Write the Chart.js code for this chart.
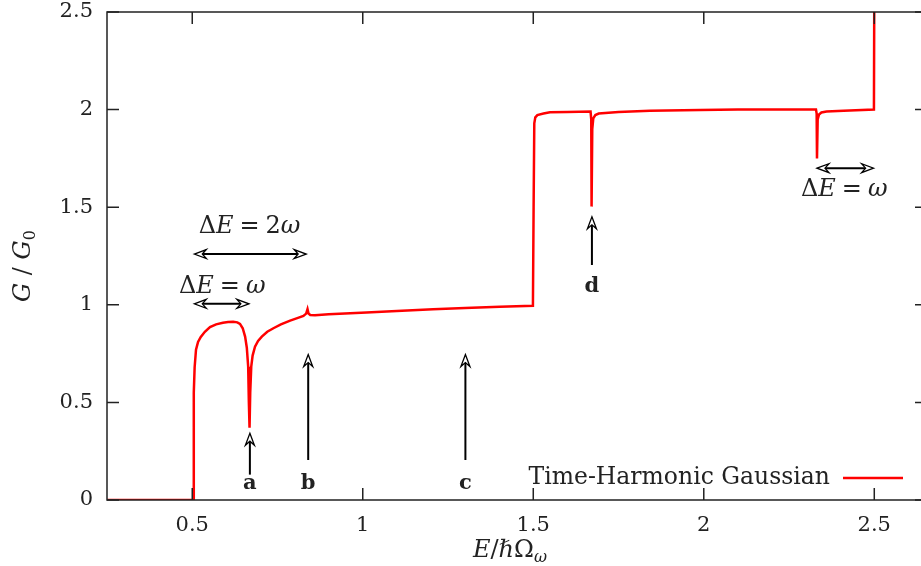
<!DOCTYPE html>
<html>
<head>
<meta charset="utf-8">
<script src="https://cdn.jsdelivr.net/npm/chart.js@4"></script>
<style>
  html, body { margin: 0; padding: 0; background: #fff; }
</style>
</head>
<body>
<canvas id="chart" width="921" height="566"></canvas>
<script>
// conductance G/G0 against E/(hbar Omega_w)
var energy = [0.25, 0.503, 0.504, 0.505, 0.507, 0.511, 0.517, 0.525, 0.537, 0.552, 0.570, 0.590, 0.605, 0.620, 0.632, 0.640, 0.648, 0.655, 0.660, 0.664, 0.666, 0.668, 0.670, 0.673, 0.677, 0.684, 0.693, 0.704, 0.720, 0.738, 0.760, 0.787, 0.810, 0.826, 0.834, 0.838, 0.841, 0.846, 0.860, 0.900, 1.011, 1.100, 1.206, 1.300, 1.402, 1.499, 1.501, 1.503, 1.506, 1.512, 1.530, 1.549, 1.600, 1.668, 1.670, 1.671, 1.673, 1.676, 1.682, 1.692, 1.750, 1.842, 1.989, 2.100, 2.200, 2.329, 2.331, 2.332, 2.334, 2.338, 2.345, 2.360, 2.410, 2.499, 2.500];
var conductance = [0, 0, 0.30, 0.55, 0.68, 0.77, 0.81, 0.835, 0.862, 0.886, 0.900, 0.908, 0.912, 0.913, 0.910, 0.902, 0.880, 0.837, 0.780, 0.683, 0.50, 0.37, 0.55, 0.683, 0.74, 0.785, 0.815, 0.837, 0.862, 0.880, 0.900, 0.919, 0.933, 0.943, 0.955, 0.978, 0.955, 0.948, 0.947, 0.951, 0.961, 0.968, 0.977, 0.983, 0.990, 0.995, 1.50, 1.93, 1.96, 1.972, 1.980, 1.986, 1.988, 1.990, 1.95, 1.503, 1.90, 1.955, 1.972, 1.980, 1.988, 1.994, 1.998, 2.000, 2.000, 2.001, 1.98, 1.75, 1.95, 1.975, 1.985, 1.990, 1.994, 2.000, 2.600];

var xTicks = [0.5, 1, 1.5, 2, 2.5];
var yTicks = [0, 0.5, 1, 1.5, 2, 2.5];

// vertical markers a-d
var markerNames = ['a', 'b', 'c', 'd'];
var markerE = [0.669, 0.840, 1.301, 1.672];
var markerFrom = [0.13, 0.205, 0.205, 1.204];
var markerTo = [0.342, 0.745, 0.745, 1.451];
var markerLabelG = [0.085, 0.085, 0.085, 1.093];

// horizontal double arrows with their Delta E labels
var spanFrom = [0.506, 0.506, 2.332];
var spanTo = [0.834, 0.666, 2.498];
var spanG = [1.26, 1.005, 1.70];
var spanText = ['2ω', 'ω', 'ω'];
var spanTextE = [0.668, 0.588, 2.412];
var spanTextG = [1.40, 1.09, 1.588];

var seriesName = 'Time-Harmonic Gaussian';

var ink = '#222';
var serif = 'DejaVu Serif';

function drawRich(ctx, parts, x, y, align) {
  var w = 0;
  parts.forEach(function (p) {
    ctx.font = p.f;
    w += ctx.measureText(p.t).width + (p.gap || 0);
  });
  var cx = align === 'center' ? x - w / 2 : (align === 'right' ? x - w : x);
  parts.forEach(function (p) {
    ctx.font = p.f;
    ctx.fillText(p.t, cx, y + (p.dy || 0));
    cx += ctx.measureText(p.t).width + (p.gap || 0);
  });
}

function openHead(ctx, x, y, dx, dy) {
  // dx,dy: unit direction the arrow points to
  var len = 12, half = 4.5, back = 8;
  var px = -dy, py = dx;
  ctx.beginPath();
  ctx.moveTo(x, y);
  ctx.lineTo(x - dx * len + px * half, y - dy * len + py * half);
  ctx.lineTo(x - dx * back, y - dy * back);
  ctx.lineTo(x - dx * len - px * half, y - dy * len - py * half);
  ctx.closePath();
  ctx.fillStyle = '#fff';
  ctx.fill();
  ctx.stroke();
}

function noEdgePadding(s) {
  s.paddingTop = 0; s.paddingBottom = 0;
  s.paddingLeft = 0; s.paddingRight = 0;
}

var decorations = {
  id: 'decorations',
  afterDraw: function (chart) {
    var ctx = chart.ctx;
    var xs = chart.scales.x, ys = chart.scales.y;
    var a = chart.chartArea;
    var rightEdge = a.right + 6;
    ctx.save();
    ctx.strokeStyle = ink;
    ctx.fillStyle = ink;
    ctx.lineWidth = 1.5;

    // frame
    ctx.beginPath();
    ctx.moveTo(rightEdge, a.top);
    ctx.lineTo(a.left, a.top);
    ctx.lineTo(a.left, a.bottom);
    ctx.lineTo(rightEdge, a.bottom);
    ctx.stroke();

    // inward ticks on all sides
    ctx.beginPath();
    xTicks.forEach(function (v) {
      var px = xs.getPixelForValue(v);
      ctx.moveTo(px, a.bottom); ctx.lineTo(px, a.bottom - 12);
      ctx.moveTo(px, a.top); ctx.lineTo(px, a.top + 12);
    });
    yTicks.forEach(function (v) {
      var py = ys.getPixelForValue(v);
      ctx.moveTo(a.left, py); ctx.lineTo(a.left + 12, py);
      ctx.moveTo(rightEdge, py); ctx.lineTo(rightEdge - 12, py);
    });
    ctx.stroke();

    // markers a-d
    ctx.lineWidth = 2;
    ctx.strokeStyle = '#000';
    markerNames.forEach(function (name, i) {
      var px = xs.getPixelForValue(markerE[i]);
      var y0 = ys.getPixelForValue(markerFrom[i]);
      var y1 = ys.getPixelForValue(markerTo[i]);
      ctx.beginPath();
      ctx.moveTo(px, y0); ctx.lineTo(px, y1 + 8);
      ctx.stroke();
      ctx.lineWidth = 1.3;
      openHead(ctx, px, y1, 0, -1);
      ctx.lineWidth = 2;
      ctx.fillStyle = ink;
      ctx.font = 'bold 21px "' + serif + '"';
      ctx.textAlign = 'center';
      ctx.textBaseline = 'middle';
      ctx.fillText(name, px, ys.getPixelForValue(markerLabelG[i]));
    });

    // double arrows
    spanFrom.forEach(function (e0, i) {
      var x0 = xs.getPixelForValue(e0);
      var x1 = xs.getPixelForValue(spanTo[i]);
      var py = ys.getPixelForValue(spanG[i]);
      ctx.lineWidth = 2;
      ctx.beginPath();
      ctx.moveTo(x0 + 8, py); ctx.lineTo(x1 - 8, py);
      ctx.stroke();
      ctx.lineWidth = 1.3;
      openHead(ctx, x0, py, -1, 0);
      openHead(ctx, x1, py, 1, 0);
      ctx.fillStyle = ink;
      ctx.textAlign = 'left';
      ctx.textBaseline = 'middle';
      var up = '24px "' + serif + '"', it = 'italic 24px "' + serif + '"';
      drawRich(ctx, [
        { t: 'Δ', f: up },
        { t: 'E', f: it, gap: 6 },
        { t: '=', f: up, gap: 6 },
        { t: spanText[i].length > 1 ? spanText[i].charAt(0) : '', f: up },
        { t: spanText[i].slice(-1), f: it }
      ], xs.getPixelForValue(spanTextE[i]), ys.getPixelForValue(spanTextG[i]), 'center');
    });

    // legend inside the plot, bottom right
    var ly = 478;
    ctx.font = '23.5px "' + serif + '"';
    ctx.textAlign = 'right';
    ctx.textBaseline = 'middle';
    ctx.fillStyle = ink;
    ctx.fillText(seriesName, 830, ly);
    ctx.strokeStyle = chart.data.datasets[0].borderColor;
    ctx.lineWidth = 2.5;
    ctx.beginPath();
    ctx.moveTo(843, ly); ctx.lineTo(903, ly);
    ctx.stroke();

    // axis titles
    ctx.fillStyle = ink;
    ctx.textAlign = 'left';
    ctx.textBaseline = 'alphabetic';
    var f24 = '24px "' + serif + '"', i24 = 'italic 24px "' + serif + '"', i16 = 'italic 16px "' + serif + '"', f16 = '16px "' + serif + '"';
    drawRich(ctx, [
      { t: 'E', f: i24 },
      { t: '/', f: f24 },
      { t: 'ℏ', f: i24 },
      { t: 'Ω', f: f24 },
      { t: 'ω', f: i16, dy: 5 }
    ], 510, 557, 'center');

    ctx.translate(30, 266);
    ctx.rotate(-Math.PI / 2);
    drawRich(ctx, [
      { t: 'G', f: i24 },
      { t: ' / ', f: f24 },
      { t: 'G', f: i24 },
      { t: '0', f: f16, dy: 5 }
    ], 0, 0, 'center');
    ctx.restore();
  }
};

var ctx = document.getElementById('chart').getContext('2d');
var myChart = new Chart(ctx, {
  type: 'line',
  data: {
    datasets: [{
      label: seriesName,
      data: energy.map(function (e, i) { return { x: e, y: conductance[i] }; }),
      borderColor: 'rgb(255, 0, 0)',
      borderWidth: 2.5,
      pointRadius: 0,
      tension: 0,
      fill: false
    }]
  },
  options: {
    responsive: false,
    animation: false,
    devicePixelRatio: 1,
    layout: { padding: { top: 12, right: 0, left: 0, bottom: 0 } },
    plugins: { legend: { display: false }, tooltip: { enabled: false } },
    scales: {
      x: {
        type: 'linear',
        min: 0.25,
        max: 2.637,
        afterBuildTicks: function (s) { s.ticks = xTicks.map(function (v) { return { value: v }; }); },
        afterFit: function (s) { s.height = 66; noEdgePadding(s); },
        grid: { display: false, drawTicks: false },
        border: { display: false },
        ticks: {
          autoSkip: false, maxRotation: 0, padding: 13, color: ink,
          font: { family: serif, size: 21 },
          callback: function (v) { return String(v); }
        }
      },
      y: {
        min: 0,
        max: 2.5,
        afterBuildTicks: function (s) { s.ticks = yTicks.map(function (v) { return { value: v }; }); },
        afterFit: function (s) { s.width = 107; noEdgePadding(s); },
        grid: { display: false, drawTicks: false },
        border: { display: false },
        ticks: {
          padding: 14, color: ink,
          font: { family: serif, size: 21 },
          callback: function (v) { return String(v); }
        }
      }
    }
  },
  plugins: [decorations]
});
</script>
</body>
</html>
